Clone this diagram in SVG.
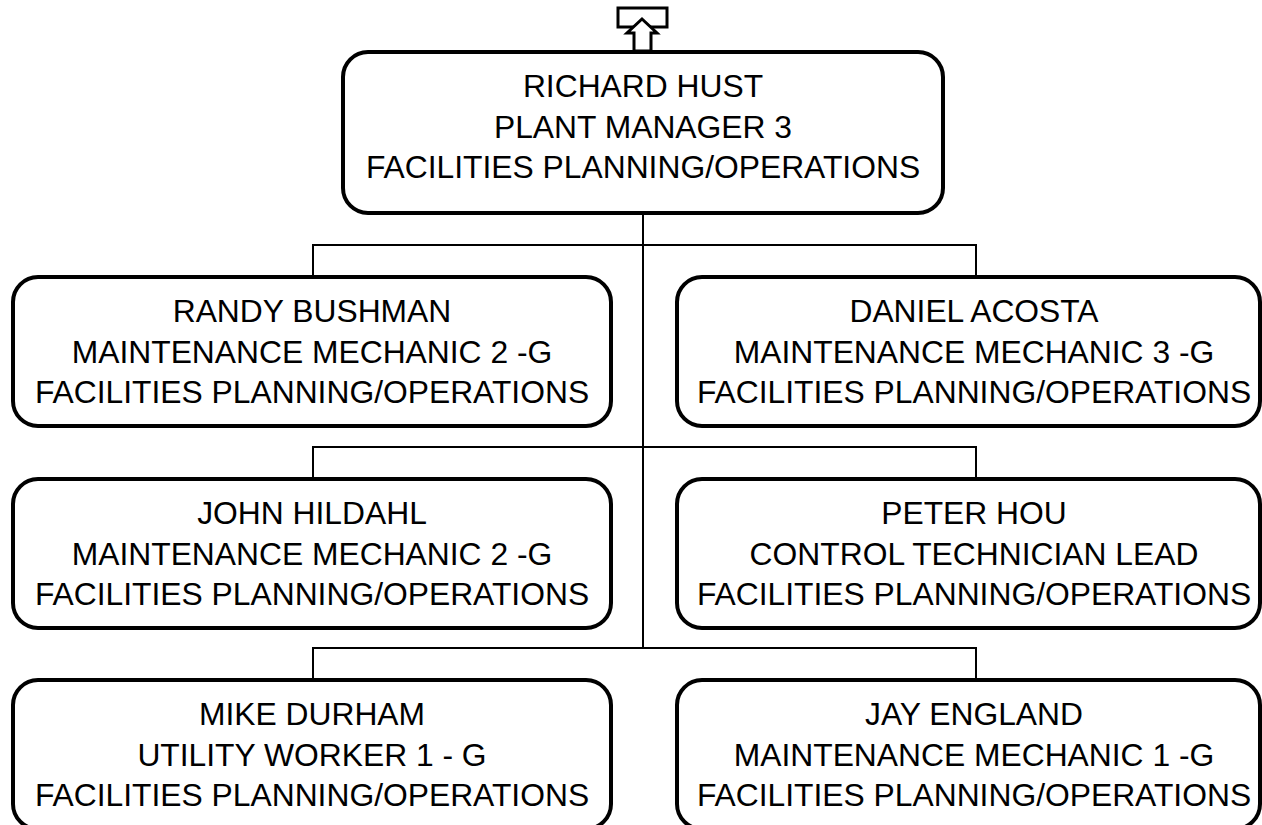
<svg xmlns="http://www.w3.org/2000/svg" width="1262" height="825" viewBox="0 0 1262 825">
<style>
.box{fill:#fff;stroke:#000;stroke-width:4}
.conn{fill:none;stroke:#000;stroke-width:2}
text{font-family:"Liberation Sans",Arial,sans-serif;font-size:31.8px;fill:#000;text-anchor:middle}
</style>
<rect width="1262" height="825" fill="#fff"/>
<g id="connectors">
<path class="conn" d="M643 213V648"/>
<path class="conn" d="M313 277V245H976V277"/>
<path class="conn" d="M313 479V447H976V479"/>
<path class="conn" d="M313 680V648H976V680"/>
</g>
<g id="up-icon">
<rect x="618" y="8" width="49" height="19" fill="#fff" stroke="#000" stroke-width="3"/>
<polygon points="642,19 657,33 651,33 651,51 634,51 634,33 627,33" fill="#fff" stroke="#000" stroke-width="3" stroke-linejoin="miter"/>
</g>
<g id="richard">
<rect class="box" x="343" y="52" width="600" height="161" rx="25"/>
<text x="643" y="97">RICHARD HUST</text>
<text x="643" y="138">PLANT MANAGER 3</text>
<text x="643" y="178">FACILITIES PLANNING/OPERATIONS</text>
</g>
<g id="randy">
<rect class="box" x="13" y="277" width="598" height="149" rx="25"/>
<text x="312" y="322">RANDY BUSHMAN</text>
<text x="312" y="363">MAINTENANCE MECHANIC 2 -G</text>
<text x="312" y="403">FACILITIES PLANNING/OPERATIONS</text>
</g>
<g id="daniel">
<rect class="box" x="677" y="277" width="583" height="149" rx="25"/>
<text x="974" y="322">DANIEL ACOSTA</text>
<text x="974" y="363">MAINTENANCE MECHANIC 3 -G</text>
<text x="974" y="403">FACILITIES PLANNING/OPERATIONS</text>
</g>
<g id="john">
<rect class="box" x="13" y="479" width="598" height="149" rx="25"/>
<text x="312" y="524">JOHN HILDAHL</text>
<text x="312" y="565">MAINTENANCE MECHANIC 2 -G</text>
<text x="312" y="605">FACILITIES PLANNING/OPERATIONS</text>
</g>
<g id="peter">
<rect class="box" x="677" y="479" width="583" height="149" rx="25"/>
<text x="974" y="524">PETER HOU</text>
<text x="974" y="565">CONTROL TECHNICIAN LEAD</text>
<text x="974" y="605">FACILITIES PLANNING/OPERATIONS</text>
</g>
<g id="mike">
<rect class="box" x="13" y="680" width="598" height="149" rx="25"/>
<text x="312" y="725">MIKE DURHAM</text>
<text x="312" y="766">UTILITY WORKER 1 - G</text>
<text x="312" y="806">FACILITIES PLANNING/OPERATIONS</text>
</g>
<g id="jay">
<rect class="box" x="677" y="680" width="583" height="149" rx="25"/>
<text x="974" y="725">JAY ENGLAND</text>
<text x="974" y="766">MAINTENANCE MECHANIC 1 -G</text>
<text x="974" y="806">FACILITIES PLANNING/OPERATIONS</text>
</g>
</svg>
